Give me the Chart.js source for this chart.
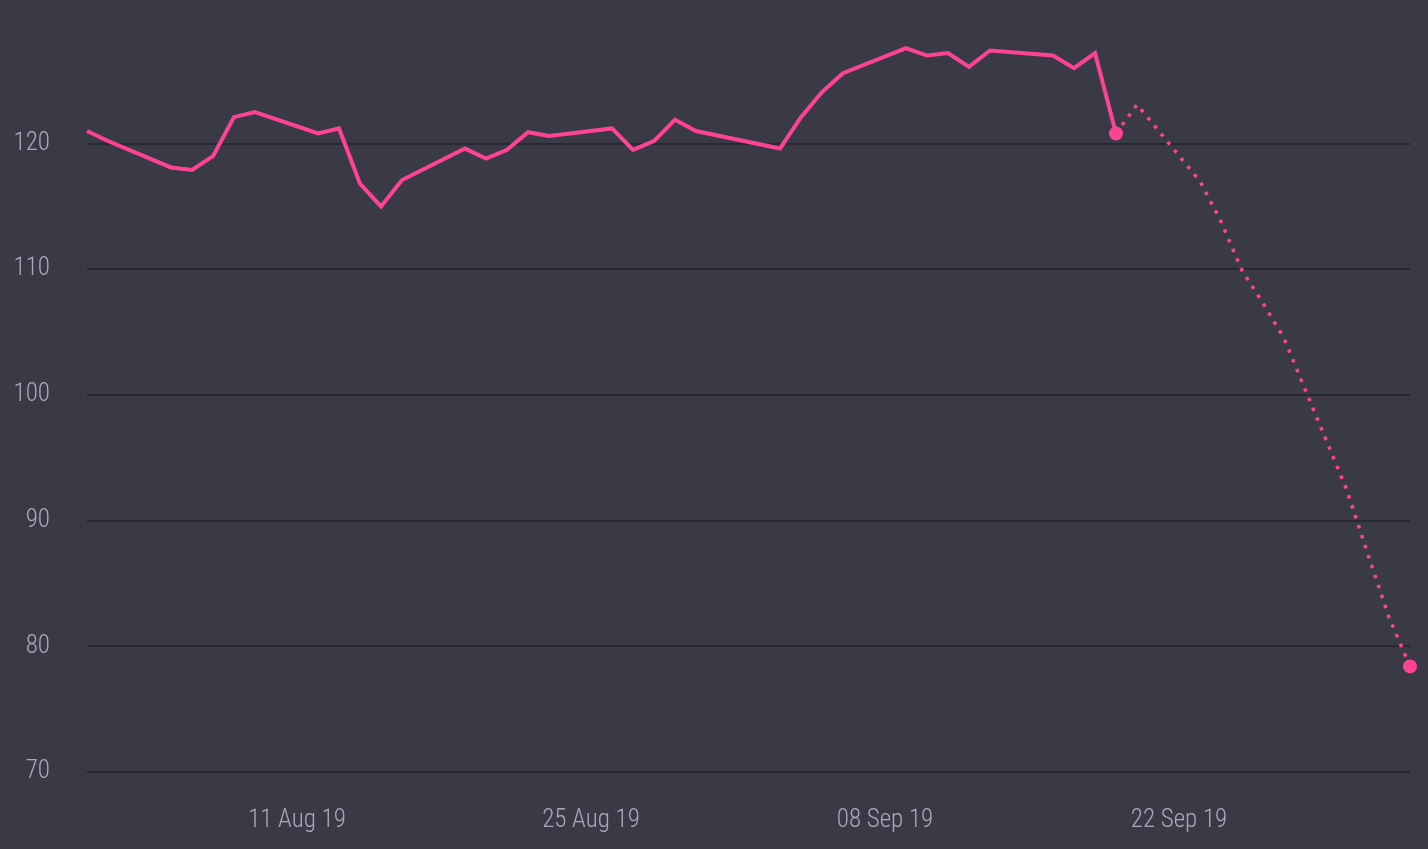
<!DOCTYPE html>
<html>
<head>
<meta charset="utf-8">
<script src="https://cdn.jsdelivr.net/npm/chart.js@4/dist/chart.umd.min.js"></script>
<style>
    html, body { margin: 0; padding: 0; background: #3a3a47; }
    #wrap { width: 1428px; height: 849px; position: relative; }
</style>
</head>
<body>
<div id="wrap"><canvas id="price-chart"></canvas></div>
<script>
// closing prices (trading days only)
var priceDates = ['2019-08-01', '2019-08-02', '2019-08-05', '2019-08-06', '2019-08-07', '2019-08-08', '2019-08-09',
    '2019-08-12', '2019-08-13', '2019-08-14', '2019-08-15', '2019-08-16',
    '2019-08-19', '2019-08-20', '2019-08-21', '2019-08-22', '2019-08-23',
    '2019-08-26', '2019-08-27', '2019-08-28', '2019-08-29', '2019-08-30',
    '2019-09-03', '2019-09-04', '2019-09-05', '2019-09-06',
    '2019-09-09', '2019-09-10', '2019-09-11', '2019-09-12', '2019-09-13',
    '2019-09-16', '2019-09-17', '2019-09-18', '2019-09-19'];
var priceValues = [121.0, 120.2, 118.1, 117.9, 119.0, 122.1, 122.5,
    120.8, 121.2, 116.8, 115.0, 117.1,
    119.6, 118.8, 119.5, 120.9, 120.6,
    121.2, 119.5, 120.2, 121.9, 121.0,
    119.6, 122.1, 124.1, 125.6,
    127.6, 127.0, 127.2, 126.1, 127.4,
    127.0, 126.0, 127.2, 120.8];

// forecast
var forecastDates = ['2019-09-19', '2019-09-20', '2019-09-23', '2019-09-24', '2019-09-25', '2019-09-26', '2019-09-27',
    '2019-09-30', '2019-10-01', '2019-10-02', '2019-10-03'];
var forecastValues = [120.8, 123.1, 117.0, 113.8, 109.9, 107.3, 104.5, 92.4, 87.3, 82.3, 78.4];

var tickDates = ['2019-08-11', '2019-08-25', '2019-09-08', '2019-09-22'];
var tickLabels = ['11 Aug 19', '25 Aug 19', '08 Sep 19', '22 Sep 19'];
var yTicks = [70, 80, 90, 100, 110, 120];

var startDate = '2019-08-01';
var endDate = '2019-10-03';

function dayOf(d) {
    return (Date.parse(d) - Date.parse(startDate)) / 86400000;
}

var pink = '#ff4394';
var fontFamily = "'Roboto Condensed', 'DejaVu Sans Condensed', 'Liberation Sans Narrow', 'Roboto', sans-serif";

var pricePoints = priceDates.map(function(d, i) { return { x: dayOf(d), y: priceValues[i] }; });
var forecastPoints = forecastDates.map(function(d, i) { return { x: dayOf(d), y: forecastValues[i] }; });

var ctx = document.getElementById('price-chart').getContext('2d');
var priceChart = new Chart(ctx, {
    type: 'line',
    data: {
        datasets: [{
            label: 'Forecast',
            data: forecastPoints,
            borderColor: pink,
            backgroundColor: pink,
            borderWidth: 3.5,
            borderDash: [3.5, 7],
            tension: 0,
            clip: false,
            pointRadius: forecastPoints.map(function(p, i) { return i === forecastPoints.length - 1 ? 7 : 0; }),
            pointBorderWidth: 0
        }, {
            label: 'Price',
            data: pricePoints,
            borderColor: pink,
            backgroundColor: pink,
            borderWidth: 4,
            tension: 0,
            clip: false,
            pointRadius: pricePoints.map(function(p, i) { return i === pricePoints.length - 1 ? 7 : 0; }),
            pointBorderWidth: 0
        }]
    },
    options: {
        responsive: true,
        maintainAspectRatio: false,
        animation: false,
        layout: { padding: { top: 43, right: 18, left: 0, bottom: 0 } },
        plugins: {
            legend: { display: false },
            tooltip: { enabled: false }
        },
        scales: {
            x: {
                type: 'linear',
                min: 0,
                max: dayOf(endDate),
                grid: { display: false, drawTicks: false },
                border: { display: false },
                afterBuildTicks: function(scale) {
                    scale.ticks = tickDates.map(function(d) { return { value: dayOf(d) }; });
                },
                afterFit: function(scale) {
                    scale.height = 77;
                    scale.paddingLeft = 0;
                    scale.paddingRight = 0;
                },
                ticks: {
                    color: '#a9a9ba',
                    padding: 34,
                    maxRotation: 0,
                    autoSkip: false,
                    font: { family: fontFamily, size: 25, weight: 300 },
                    callback: function(value) {
                        var i = tickDates.map(dayOf).indexOf(value);
                        return i >= 0 ? tickLabels[i] : '';
                    }
                }
            },
            y: {
                min: 70,
                max: 128,
                grid: { color: '#282832', lineWidth: 2, drawTicks: false },
                border: { display: false },
                afterBuildTicks: function(scale) {
                    scale.ticks = yTicks.map(function(v) { return { value: v }; });
                },
                afterFit: function(scale) {
                    scale.width = 87;
                    scale.paddingTop = 0;
                    scale.paddingBottom = 0;
                },
                ticks: {
                    color: '#a9a9ba',
                    padding: 37,
                    font: { family: fontFamily, size: 25, weight: 300 }
                }
            }
        }
    }
});
</script>
</body>
</html>
